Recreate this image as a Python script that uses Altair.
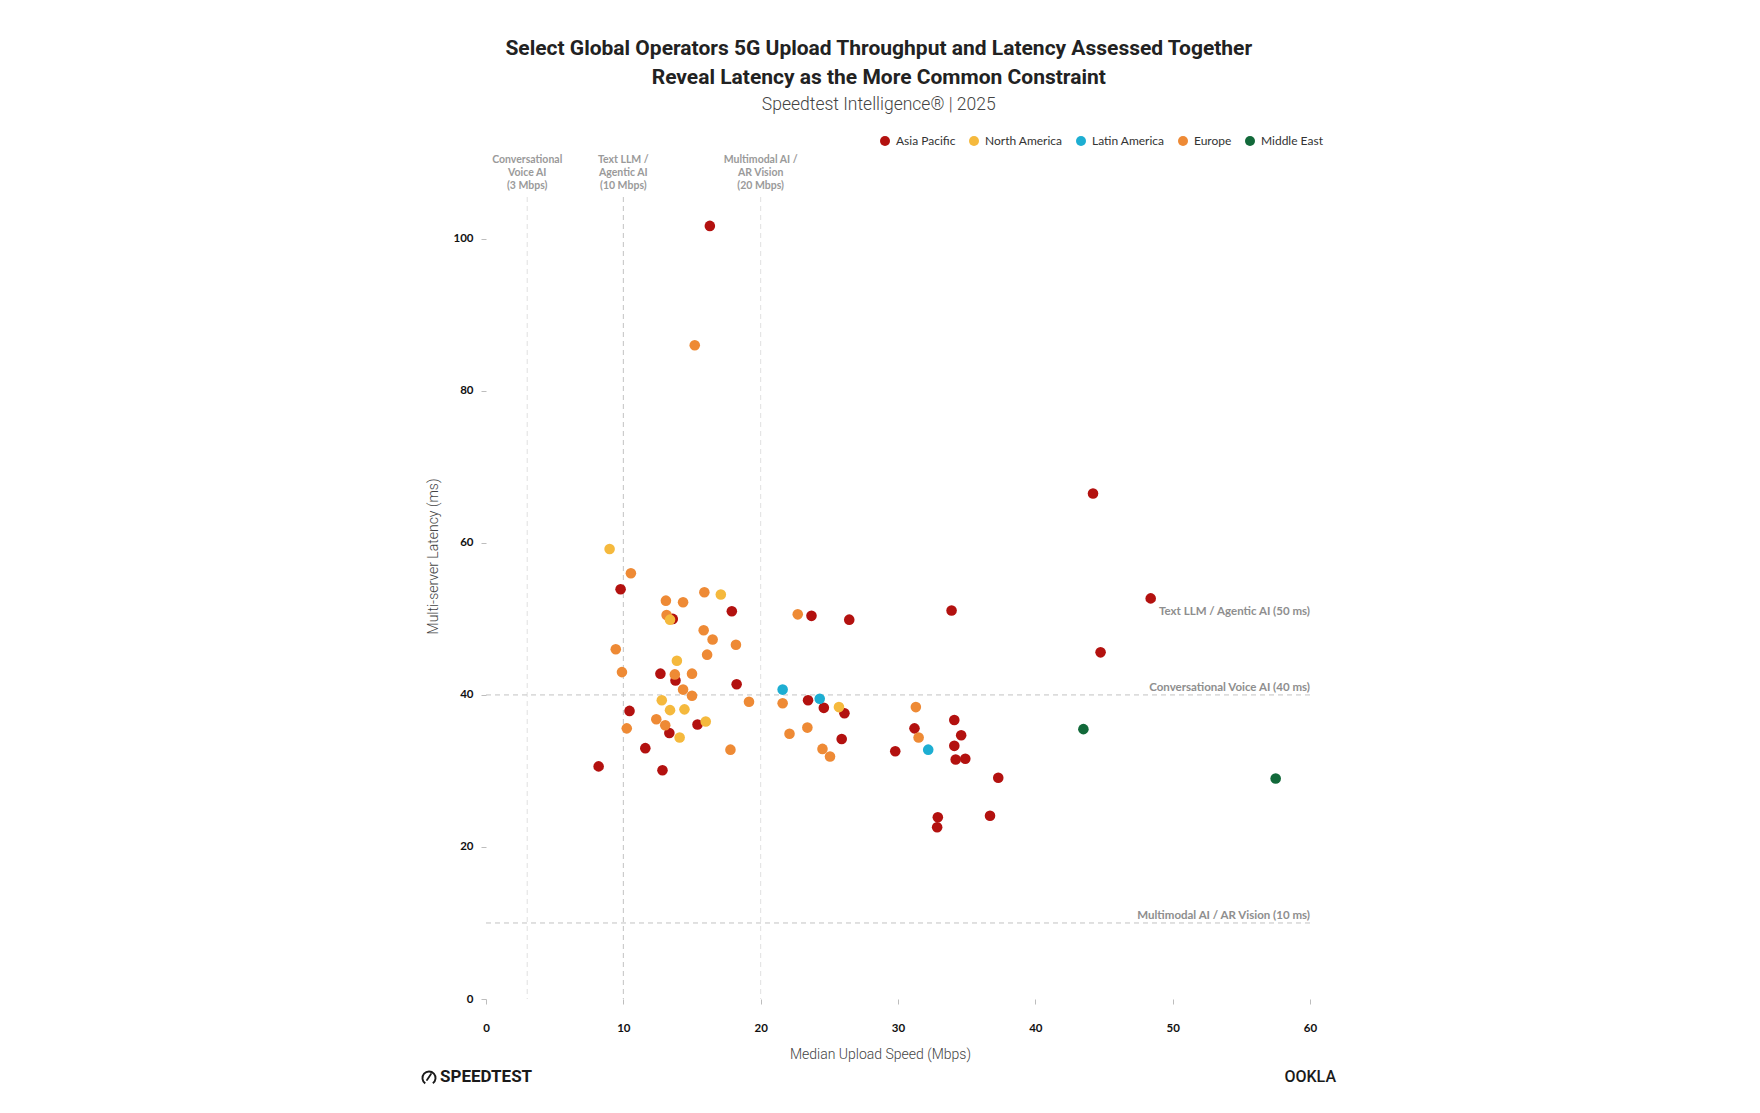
import altair as alt
import pandas as pd

# Regions, legend order and palette
regions = ["Asia Pacific", "North America", "Latin America", "Europe", "Middle East"]
palette = ["#b3110f", "#f5b93d", "#1daed2", "#ee8a35", "#12693a"]

# Median upload speed (Mbps) and multi-server latency (ms) per operator
ap_upload = [16.3, 9.8, 17.9, 13.6, 12.7, 13.8, 18.25, 10.45, 13.35, 15.4, 11.6, 8.2, 12.85,
             23.7, 26.45, 33.9, 23.45, 24.6, 26.1, 25.9, 31.2, 29.8, 34.1, 34.6, 34.1, 34.2,
             34.9, 37.3, 32.9, 32.85, 36.7, 44.2, 48.4, 44.75]
ap_latency = [101.7, 53.9, 51.0, 50.0, 42.8, 41.9, 41.4, 37.9, 35.0, 36.1, 33.0, 30.6, 30.1,
              50.4, 49.9, 51.1, 39.3, 38.3, 37.6, 34.2, 35.6, 32.6, 36.7, 34.7, 33.3, 31.5,
              31.6, 29.1, 23.9, 22.6, 24.1, 66.5, 52.7, 45.6]

eu_upload = [15.2, 10.55, 13.1, 14.35, 15.9, 13.15, 15.85, 16.5, 18.2, 9.45, 16.1, 9.9, 13.75,
             15.0, 14.35, 15.0, 19.15, 21.6, 12.4, 13.05, 10.25, 17.8, 22.7, 22.1, 23.4, 24.5,
             25.05, 31.3, 31.5]
eu_latency = [86.0, 56.0, 52.4, 52.2, 53.5, 50.5, 48.5, 47.3, 46.6, 46.0, 45.3, 43.0, 42.7,
              42.8, 40.7, 39.9, 39.1, 38.9, 36.8, 36.0, 35.6, 32.8, 50.6, 34.9, 35.7, 32.9,
              31.9, 38.4, 34.4]

na_upload = [9.0, 17.1, 13.4, 13.9, 12.8, 13.4, 14.45, 14.1, 16.0, 25.7]
na_latency = [59.2, 53.2, 49.9, 44.5, 39.3, 38.0, 38.1, 34.4, 36.5, 38.4]

la_upload = [21.6, 24.3, 32.2]
la_latency = [40.7, 39.5, 32.8]

me_upload = [43.5, 57.5]
me_latency = [35.5, 29.0]

# Use-case thresholds
upload_thresholds = [3, 10, 20]
upload_labels = ["Conversational\nVoice AI\n(3 Mbps)",
                 "Text LLM /\nAgentic AI\n(10 Mbps)",
                 "Multimodal AI /\nAR Vision\n(20 Mbps)"]
latency_thresholds = [50, 40, 10]
latency_labels = ["Text LLM / Agentic AI (50 ms)",
                  "Conversational Voice AI (40 ms)",
                  "Multimodal AI / AR Vision (10 ms)"]

x_ticks = [0, 10, 20, 30, 40, 50, 60]
y_ticks = [0, 20, 40, 60, 80, 100]
X_MAX = 60
Y_MAX = 105.5

rows = []
for region, xs, ys in [("Asia Pacific", ap_upload, ap_latency),
                       ("Europe", eu_upload, eu_latency),
                       ("North America", na_upload, na_latency),
                       ("Latin America", la_upload, la_latency),
                       ("Middle East", me_upload, me_latency)]:
    for xv, yv in zip(xs, ys):
        rows.append({"region": region, "upload": xv, "latency": yv})
points_df = pd.DataFrame(rows)

W, H = 824, 802
LABEL_FONT = "Lato, Roboto, sans-serif"
LIGHT_FONT = "Roboto, Lato, sans-serif"
HEAD_FONT = "Roboto, Lato, sans-serif"

x_scale = alt.Scale(domain=[0, X_MAX], nice=False, zero=True)
y_scale = alt.Scale(domain=[0, Y_MAX], nice=False, zero=True)

x_axis = alt.Axis(values=x_ticks, title="Median Upload Speed (Mbps)", labelFlush=False,
                  titleX=394, titleY=55, titleBaseline="middle")
y_axis = alt.Axis(values=y_ticks, title="Multi-server Latency (ms)", labelFlush=False,
                  titleX=-53, titleY=359, titleBaseline="middle")

# Upload threshold rules (vertical)
vthr = pd.DataFrame({"upload": upload_thresholds, "label": upload_labels})
vrule_main = alt.Chart(vthr[vthr["upload"] == 10]).mark_rule(
    color="#c2c2c2", strokeDash=[5, 4], strokeWidth=1
).encode(x=alt.X("upload:Q", scale=x_scale, axis=x_axis))
vrule_soft = alt.Chart(vthr[vthr["upload"] != 10]).mark_rule(
    color="#e0e0e0", strokeDash=[5, 4], strokeWidth=1
).encode(x=alt.X("upload:Q", scale=x_scale, axis=x_axis))

vlabels = alt.Chart(vthr.assign(top=Y_MAX)).mark_text(
    font=LABEL_FONT, fontSize=10.5, fontWeight="bold", color="#9a9a9a",
    align="center", baseline="bottom", lineBreak="\n", lineHeight=13, dy=-32
).encode(x=alt.X("upload:Q", scale=x_scale, axis=x_axis),
         y=alt.Y("top:Q", scale=y_scale, axis=y_axis),
         text="label:N")

# Latency threshold rules (horizontal)
hthr = pd.DataFrame({"latency": latency_thresholds, "label": latency_labels, "xr": X_MAX})
hrule = alt.Chart(hthr[hthr["latency"] != 50]).mark_rule(
    color="#c2c2c2", strokeDash=[5, 4], strokeWidth=1
).encode(y=alt.Y("latency:Q", scale=y_scale, axis=y_axis))
hlabels = alt.Chart(hthr).mark_text(
    font=LABEL_FONT, fontSize=11.5, fontWeight="bold", color="#8e8e8e",
    align="right", baseline="bottom", dy=-2
).encode(x=alt.X("xr:Q", scale=x_scale, axis=x_axis),
         y=alt.Y("latency:Q", scale=y_scale, axis=y_axis),
         text="label:N")

points = alt.Chart(points_df).mark_circle(size=112, opacity=1).encode(
    x=alt.X("upload:Q", scale=x_scale, axis=x_axis),
    y=alt.Y("latency:Q", scale=y_scale, axis=y_axis),
    color=alt.Color("region:N",
                    scale=alt.Scale(domain=regions, range=palette),
                    legend=alt.Legend(title=None, orient="none", legendX=393, legendY=-62,
                                      direction="horizontal", columns=5,
                                      symbolType="circle", symbolSize=100,
                                      symbolStrokeWidth=0, symbolOpacity=1,
                                      labelFont=LABEL_FONT, labelFontSize=12,
                                      labelColor="#333333", labelOffset=5,
                                      columnPadding=12)),
)

# Brand marks along the bottom
brand_df = pd.DataFrame({"xl": [0], "xr": [X_MAX]})
speedtest = alt.Chart(brand_df).mark_text(
    font="Roboto, sans-serif", fontSize=17, fontWeight="bold", color="#1a1a1a",
    align="left", baseline="middle", dx=-46
).encode(x=alt.X("xl:Q", scale=x_scale, axis=x_axis), y=alt.value(H + 78),
         text=alt.value("SPEEDTEST"))
gauge = alt.Chart(alt.Data(values=[{}])).mark_arc(
    theta=3.75, theta2=8.8, outerRadius=7.5, innerRadius=5.6, color="#1a1a1a"
).encode(x=alt.value(-57), y=alt.value(H + 79))
needle = alt.Chart(alt.Data(values=[{}])).mark_rule(
    color="#1a1a1a", strokeWidth=1.8, strokeCap="round"
).encode(x=alt.value(-59), y=alt.value(H + 81), x2=alt.value(-55), y2=alt.value(H + 75))
ookla = alt.Chart(brand_df).mark_text(
    font="Roboto, sans-serif", fontSize=16, fontWeight=500, color="#1a1a1a",
    align="right", baseline="middle", dx=26
).encode(x=alt.X("xr:Q", scale=x_scale, axis=x_axis), y=alt.value(H + 78),
         text=alt.value("OOKLA"))

chart = alt.layer(
    vrule_soft, vrule_main, hrule, hlabels, vlabels, points, speedtest, gauge, needle, ookla
).properties(
    width=W, height=H,
    background="white",
    title=alt.Title(
        text=["Select Global Operators 5G Upload Throughput and Latency Assessed Together",
              "Reveal Latency as the More Common Constraint"],
        subtitle="Speedtest Intelligence\u00ae | 2025",
        font=HEAD_FONT, fontSize=21, fontWeight="bold", lineHeight=29, color="#222222",
        subtitleFont=HEAD_FONT, subtitleFontSize=17.5, subtitleColor="#444444",
        subtitleFontWeight=300, subtitlePadding=8.5,
        anchor="middle", frame="bounds", offset=21.5),
    autosize=alt.AutoSizeParams(type="none"),
    padding={"left": 486, "top": 197, "right": 450, "bottom": 114},
).configure_view(
    stroke=None
).configure_axis(
    grid=False, domain=False,
    tickColor="#bdbdbd", tickSize=5, tickWidth=1,
    labelFont=LABEL_FONT, labelFontSize=11.5, labelFontWeight="bold", labelColor="#111111",
    titleFont=LIGHT_FONT, titleFontSize=14, titleFontWeight=300, titleColor="#444444",
).configure_axisX(
    labelPadding=18
).configure_axisY(
    labelPadding=8
)

chart.save("out.html", embed_options={"renderer": "svg", "actions": False})
